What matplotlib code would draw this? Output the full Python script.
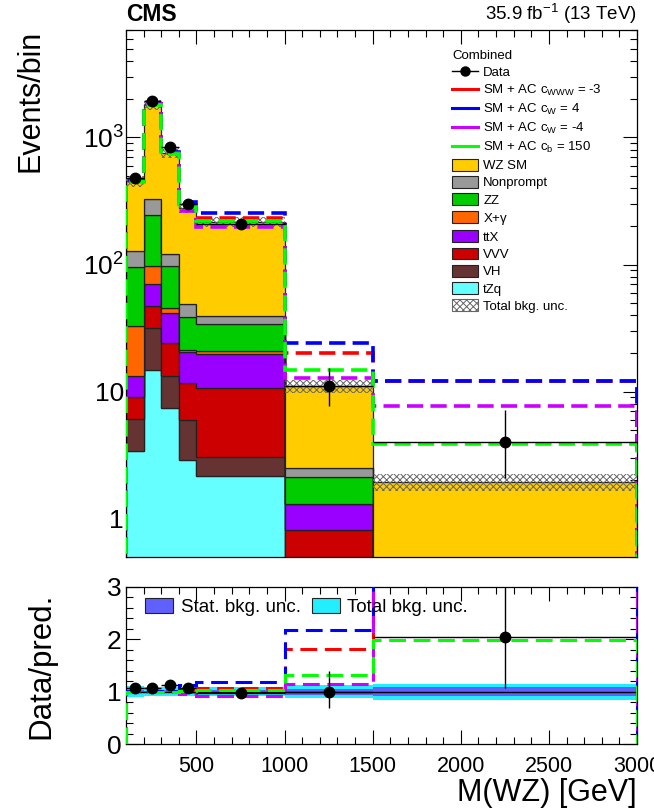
import numpy as np
import matplotlib
matplotlib.use("Agg")
import matplotlib.pyplot as plt
from matplotlib.lines import Line2D
from matplotlib.patches import Patch
from matplotlib.ticker import FixedLocator, MultipleLocator, NullFormatter, LogLocator

# ---------------- data ----------------
edges = [100, 200, 300, 400, 500, 1000, 1500, 3000]

tzq       = [3.43, 14.7, 7.43, 2.88, 2.15, 0.0, 0.0]
vh        = [2.66, 16.9, 5.87, 3.13, 0.91, 0.0, 0.0]
vvv       = [2.91, 15.2, 10.8, 5.69, 7.64, 0.81, 0.0]
ttx       = [4.2, 23.5, 17.4, 8.8, 9.1, 0.49, 0.0]
xgamma    = [19.8, 27.7, 4.4, 0.6, 0.9, 0.0, 0.0]
zz        = [62.6, 148.0, 50.8, 17.3, 13.5, 0.81, 0.0]
nonprompt = [32.4, 81.0, 24.3, 10.5, 4.9, 0.39, 0.0]
wz_sm     = [322.0, 1491.0, 634.0, 230.0, 176.0, 8.6, 1.95]

data      = [482, 1945, 845, 301, 209, 11, 4]
data_lo   = [22.0, 44.0, 29.0, 17.3, 14.5, 3.3, 1.9]
data_hi   = [22.0, 44.0, 29.0, 17.3, 14.5, 4.4, 3.2]

ac_cwww_m3 = [450, 1818, 755, 293, 232, 20.1, 12.1]
ac_cw_p4   = [459, 1836, 763, 312, 254, 24.1, 12.2]
ac_cw_m4   = [450, 1818, 755, 265, 199, 12.8, 7.74]
ac_cb_150  = [446, 1800, 747, 285, 221, 14.7, 3.87]

tot_unc  = [0.10, 0.09, 0.09, 0.09, 0.09, 0.12, 0.15]
stat_unc = [0.03, 0.02, 0.03, 0.04, 0.04, 0.06, 0.08]

bkg_names  = ["tZq", "VH", "VVV", "ttX", "X+$\\gamma$", "ZZ", "Nonprompt", "WZ SM"]
bkg_vals   = [tzq, vh, vvv, ttx, xgamma, zz, nonprompt, wz_sm]
bkg_colors = ["#66ffff", "#663333", "#cc0000", "#9900ff", "#ff6600", "#00cc00", "#999999", "#ffcc00"]

ac_labels = ["SM + AC c$_{WWW}$ = -3", "SM + AC c$_{W}$ = 4", "SM + AC c$_{W}$ = -4", "SM + AC c$_{b}$ = 150"]
ac_vals   = [ac_cwww_m3, ac_cw_p4, ac_cw_m4, ac_cb_150]
ac_colors = ["#ff0000", "#0000ff", "#cc00ff", "#00ff00"]

# ---------------- fonts ----------------
FAM = "Liberation Sans"
plt.rcParams["font.family"] = [FAM, "DejaVu Sans"]
plt.rcParams["mathtext.fontset"] = "custom"
plt.rcParams["mathtext.rm"] = FAM
plt.rcParams["mathtext.it"] = FAM
plt.rcParams["mathtext.bf"] = FAM + ":bold"
plt.rcParams["hatch.linewidth"] = 0.7

edges_a = np.array(edges, float)
centers = 0.5 * (edges_a[1:] + edges_a[:-1])
halfw = 0.5 * (edges_a[1:] - edges_a[:-1])
total = np.sum(np.array(bkg_vals, float), axis=0)

W, H = 654, 811
fig = plt.figure(figsize=(W / 100, H / 100), dpi=100)
ax1 = fig.add_axes([126 / W, 1 - 557 / H, (637 - 126) / W, (557 - 30) / H])
ax2 = fig.add_axes([126 / W, 1 - 744 / H, (637 - 126) / W, (744 - 587) / H])

# ---------------- main panel ----------------
ax1.set_yscale("log")
base = np.full(len(centers), 1e-3)
for vals, col in zip(bkg_vals, bkg_colors):
    top = base + np.array(vals, float)
    ax1.stairs(top, edges_a, baseline=base, fill=True, facecolor=col,
               edgecolor="#222222", linewidth=0.9, zorder=2)
    base = top

ax1.stairs(total * (1 + np.array(tot_unc)), edges_a, baseline=total * (1 - np.array(tot_unc)),
           fill=True, facecolor="none", edgecolor="#666666", hatch="xxxxx", linewidth=0, zorder=3)

dash = (0, (4.5, 2.0))
for vals, col in zip(ac_vals, ac_colors):
    ax1.stairs(vals, edges_a, color=col, linewidth=2.6, linestyle=dash, zorder=4)

ax1.errorbar(centers, data, xerr=halfw, yerr=[data_lo, data_hi], fmt="o", color="black",
             ms=7.5, elinewidth=1.0, capsize=0, zorder=6)

ax1.set_xlim(100, 3000)
ax1.set_ylim(0.5, 7000)
ax1.yaxis.set_major_locator(FixedLocator([1, 10, 100, 1000]))
ax1.set_yticklabels(["1", "10", "$10^{2}$", "$10^{3}$"])
ax1.yaxis.set_minor_locator(LogLocator(base=10, subs=np.arange(2, 10)))
ax1.yaxis.set_minor_formatter(NullFormatter())
ax1.xaxis.set_major_locator(MultipleLocator(500))
ax1.xaxis.set_minor_locator(MultipleLocator(100))
ax1.tick_params(axis="x", labelbottom=False)
for ax in (ax1, ax2):
    ax.tick_params(which="both", direction="in", top=True, right=True, width=0.8)
    ax.tick_params(axis="y", labelsize=19)
    ax.tick_params(which="major", length=10)
    ax.tick_params(which="minor", length=5)
    for s in ax.spines.values():
        s.set_linewidth(0.9)
ax1.tick_params(axis="y", pad=1.5)
ax2.tick_params(axis="x", labelsize=15.5, pad=9)

ax1.set_ylabel("Events/bin", fontsize=22, loc="top")
ax1.yaxis.set_label_coords(-0.157, 1.0)

ax1.text(0.0, 1.008, "CMS", transform=ax1.transAxes, fontsize=16.5, fontweight="bold",
         ha="left", va="bottom")
ax1.text(1.0, 1.008, "35.9 fb$^{-1}$ (13 TeV)", transform=ax1.transAxes, fontsize=13.5,
         ha="right", va="bottom")

handles = [Line2D([], [], color="black", marker="o", ms=6.5, lw=1.0)]
labels = ["Data"]
for lab, col in zip(ac_labels, ac_colors):
    handles.append(Line2D([], [], color=col, lw=2.2))
    labels.append(lab)
for nm, col in list(zip(bkg_names, bkg_colors))[::-1]:
    handles.append(Patch(facecolor=col, edgecolor="#222222", linewidth=0.8))
    labels.append(nm)
handles.append(Patch(facecolor="white", edgecolor="#666666", hatch="xxxxx", linewidth=0.8))
labels.append("Total bkg. unc.")
leg = ax1.legend(handles, labels, loc="upper left", bbox_to_anchor=(0.638, 0.962), frameon=False,
                 fontsize=9.5, title="Combined", title_fontsize=9.5, alignment="left",
                 handlelength=1.97, handleheight=1.0, handletextpad=0.4, labelspacing=0.29,
                 borderaxespad=0, borderpad=0.0)

# ---------------- ratio panel ----------------
tu = np.array(tot_unc)
su = np.array(stat_unc)
ax2.stairs(1 + tu, edges_a, baseline=1 - tu, fill=True, color="#22eeff", linewidth=0, zorder=1)
ax2.stairs(1 + su, edges_a, baseline=1 - su, fill=True, color="#6060ff", linewidth=0, zorder=2)
ax2.axhline(1.0, color="black", linewidth=1.0, zorder=3)

for vals, col in zip(ac_vals, ac_colors):
    ax2.stairs(np.array(vals, float) / total, edges_a, color=col, linewidth=2.2,
               linestyle=(0, (5.5, 2.5)), zorder=4)

ratio = np.array(data, float) / total
ax2.errorbar(centers, ratio, xerr=halfw,
             yerr=[np.array(data_lo) / total, np.array(data_hi) / total],
             fmt="o", color="black", ms=7.5, elinewidth=1.0, capsize=0, zorder=6)

ax2.set_xlim(100, 3000)
ax2.set_ylim(0, 3)
ax2.yaxis.set_major_locator(MultipleLocator(1))
ax2.yaxis.set_minor_locator(MultipleLocator(0.2))
ax2.xaxis.set_major_locator(MultipleLocator(500))
ax2.xaxis.set_minor_locator(MultipleLocator(100))
ax2.set_xticks([500, 1000, 1500, 2000, 2500, 3000])
ax2.set_ylabel("Data/pred.", fontsize=22.5)
ax2.yaxis.set_label_coords(-0.136, 0.5)
ax2.set_xlabel("M(WZ) [GeV]", fontsize=22, loc="right", labelpad=0)

h2 = [Patch(facecolor="#6060ff", edgecolor="#222222", linewidth=0.8),
      Patch(facecolor="#22eeff", edgecolor="#222222", linewidth=0.8)]
ax2.legend(h2, ["Stat. bkg. unc.", "Total bkg. unc."], ncol=2, loc="upper left",
           bbox_to_anchor=(0.037, 0.93), frameon=False, fontsize=13.5, handlelength=1.5,
           handleheight=0.85, handletextpad=0.4, columnspacing=0.6, borderaxespad=0, borderpad=0)

fig.savefig("out.png", dpi=100)
